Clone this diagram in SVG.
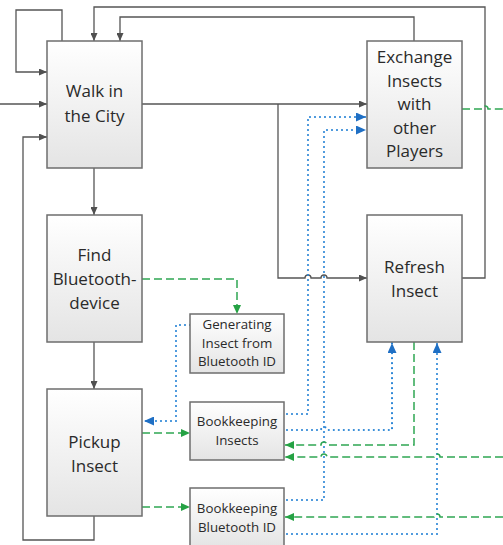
<svg xmlns="http://www.w3.org/2000/svg" width="503" height="545" viewBox="0 0 503 545">
  <defs>
    <linearGradient id="boxFill" x1="0" y1="0" x2="0" y2="1">
      <stop offset="0" stop-color="#ffffff"/>
      <stop offset="1" stop-color="#e4e4e4"/>
    </linearGradient>
    <marker id="arrGrey" markerUnits="userSpaceOnUse" markerWidth="8" markerHeight="7" refX="8" refY="3.5" orient="auto">
      <path d="M0,0 L8,3.5 L0,7 z" fill="#505050"/>
    </marker>
    <marker id="arrBlue" markerUnits="userSpaceOnUse" markerWidth="10" markerHeight="9" refX="10" refY="4.5" orient="auto">
      <path d="M0,0 L10,4.5 L0,9 z" fill="#1f6fc4"/>
    </marker>
    <marker id="arrGreen" markerUnits="userSpaceOnUse" markerWidth="9" markerHeight="8" refX="9" refY="4" orient="auto">
      <path d="M0,0 L9,4 L0,8 z" fill="#25a244"/>
    </marker>
    <style>
      .box { fill: url(#boxFill); stroke: #6e6e6e; stroke-width: 1.5; }
      .big { font-family: "Open Sans", "Liberation Sans", sans-serif; font-size: 17px; fill: #2a2a2a; text-anchor: middle; }
      .small { font-family: "Open Sans", "Liberation Sans", sans-serif; font-size: 13.3px; fill: #2a2a2a; text-anchor: middle; }
      .flow { fill: none; stroke: #555555; stroke-width: 1.3; }
      .data { fill: none; stroke: #2b86d6; stroke-width: 2.2; stroke-dasharray: 0 5; stroke-linecap: round; }
      .ctrl { fill: none; stroke: #2fa653; stroke-width: 1.5; stroke-dasharray: 8 4; }
    </style>
  </defs>

  <!-- connectors -->
  <g id="connectors">
    <!-- control flow (solid grey) -->
    <path class="flow" d="M62,41 V10 H16 V72 H47" marker-end="url(#arrGrey)"/>
    <path class="flow" d="M0,104 H47" marker-end="url(#arrGrey)"/>
    <path class="flow" d="M94,516 V540 H23 V137 H47" marker-end="url(#arrGrey)"/>
    <path class="flow" d="M94,168 V215" marker-end="url(#arrGrey)"/>
    <path class="flow" d="M94,342 V389" marker-end="url(#arrGrey)"/>
    <path class="flow" d="M462,278 H485 V7 H94 V41" marker-end="url(#arrGrey)"/>
    <path class="flow" d="M414,41 V17 H120 V41" marker-end="url(#arrGrey)"/>
    <path class="flow" d="M142,104 H367" marker-end="url(#arrGrey)"/>
    <path class="flow" d="M278,104 V278 H305 a3,3 0 0 1 6,0 H321 a3,3 0 0 1 6,0 H367" marker-end="url(#arrGrey)"/>

    <!-- data links (blue dotted) -->
    <path class="data" d="M190,325 H176 V421 H144" marker-end="url(#arrBlue)"/>
    <path class="data" d="M287,414 H308 V117 H366" marker-end="url(#arrBlue)"/>
    <path class="data" d="M287,500 H324 V130 H366" marker-end="url(#arrBlue)"/>
    <path class="data" d="M287,430 H321 a3,3 0 0 1 6,0 H392 V343" marker-end="url(#arrBlue)"/>
    <path class="data" d="M287,534 H437 V343" marker-end="url(#arrBlue)"/>

    <!-- event links (green dashed) -->
    <path class="ctrl" d="M142,279 H237 V314" marker-end="url(#arrGreen)"/>
    <path class="ctrl" d="M142,433 H190" marker-end="url(#arrGreen)"/>
    <path class="ctrl" d="M142,507 H190" marker-end="url(#arrGreen)"/>
    <path class="ctrl" d="M414,342 V445 H327 a3,3 0 0 0 -6,0 H285" marker-end="url(#arrGreen)"/>
    <path class="ctrl" d="M503,457 H440 a3,3 0 0 0 -6,0 H327 a3,3 0 0 0 -6,0 H285" marker-end="url(#arrGreen)"/>
    <path class="ctrl" d="M503,517 H440 a3,3 0 0 0 -6,0 H285" marker-end="url(#arrGreen)"/>
    <path class="ctrl" d="M462,109 H482 a3,3 0 0 1 6,0 H503"/>
  </g>

  <!-- process nodes -->
  <g id="walk-city">
    <rect class="box" x="47" y="41" width="95" height="127"/>
    <text class="big" x="94.5" y="97">Walk in</text>
    <text class="big" x="94.5" y="121.5">the City</text>
  </g>

  <g id="find-bluetooth">
    <rect class="box" x="47" y="215" width="95" height="127"/>
    <text class="big" x="94.5" y="261">Find</text>
    <text class="big" x="94.5" y="285">Bluetooth-</text>
    <text class="big" x="94.5" y="308.5">device</text>
  </g>

  <g id="pickup-insect">
    <rect class="box" x="47" y="389" width="95" height="127"/>
    <text class="big" x="94.5" y="448">Pickup</text>
    <text class="big" x="94.5" y="471.5">Insect</text>
  </g>

  <g id="exchange-insects">
    <rect class="box" x="367" y="41" width="95" height="127"/>
    <text class="big" x="414.5" y="63">Exchange</text>
    <text class="big" x="414.5" y="86.5">Insects</text>
    <text class="big" x="414.5" y="110">with</text>
    <text class="big" x="414.5" y="133.5">other</text>
    <text class="big" x="414.5" y="157">Players</text>
  </g>

  <g id="refresh-insect">
    <rect class="box" x="367" y="215" width="95" height="127"/>
    <text class="big" x="414.5" y="272.5">Refresh</text>
    <text class="big" x="414.5" y="296.5">Insect</text>
  </g>

  <!-- service nodes -->
  <g id="generating-insect">
    <rect class="box" x="190" y="314" width="94" height="59"/>
    <text class="small" x="237" y="328.5">Generating</text>
    <text class="small" x="237" y="347.5">Insect from</text>
    <text class="small" x="237" y="366">Bluetooth ID</text>
  </g>

  <g id="bookkeeping-insects">
    <rect class="box" x="190" y="402" width="94" height="58"/>
    <text class="small" x="237" y="426">Bookkeeping</text>
    <text class="small" x="237" y="444.5">Insects</text>
  </g>

  <g id="bookkeeping-bluetooth">
    <rect class="box" x="190" y="488" width="94" height="60"/>
    <text class="small" x="237" y="512.5">Bookkeeping</text>
    <text class="small" x="237" y="531.5">Bluetooth ID</text>
  </g>
</svg>
